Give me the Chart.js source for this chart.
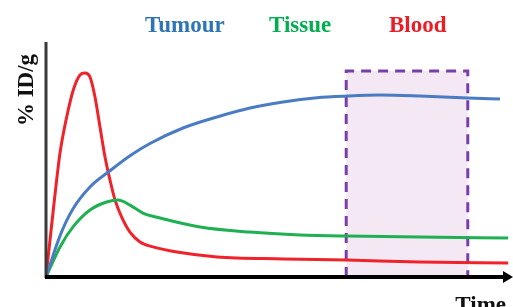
<!DOCTYPE html>
<html>
<head>
<meta charset="utf-8">
<script src="https://cdn.jsdelivr.net/npm/chart.js@4.4.1/dist/chart.umd.min.js"></script>
<style>
  html, body { margin: 0; padding: 0; background: #fff; }
  #wrap { width: 513px; height: 307px; }
</style>
</head>
<body>
<div id="wrap"><canvas id="uptakeChart"></canvas></div>
<script>
// Uptake curves (time and %ID/g in arbitrary units, 0-100)
const seriesNames = ['Tumour', 'Tissue', 'Blood'];
const seriesColors = ['#4a7cc4', '#1fb052', '#f0232b'];
const titleColors = ['#2e75b6', '#00b050', '#ee1c25'];

const tumourX = [0, 3.02, 5.82, 9.48, 13.79, 18.1, 22.41, 29.53, 36.85, 43.97, 51.08, 58.41, 64.87, 71.98, 80.6, 90.95, 97.84];
const tumourY = [0, 17.5, 29, 38.3, 45.2, 51.6, 56.8, 63.4, 68.1, 71.9, 74.5, 76.3, 77, 77.4, 77, 76.2, 75.7];

const tissueX = [0, 3.02, 5.82, 9.48, 13.08, 15.52, 18.1, 20.9, 24.57, 33.19, 43.97, 54.74, 64.87, 80.6, 99.6];
const tissueY = [0, 12.8, 21.3, 28.5, 31.9, 32.8, 30.6, 27.2, 25.1, 21.3, 19.1, 17.9, 17.4, 17, 16.6];

const bloodX = [0, 1.57, 3.02, 4.46, 5.88, 7.33, 8.41, 9.48, 10.56, 11.64, 12.72, 13.79, 14.87, 16.31, 18.1, 20.26, 23.06, 28.23, 36.85, 51.08, 64.87, 80.6, 99.6];
const bloodY = [0, 28.5, 52.8, 68.1, 79.6, 86, 86.8, 85.1, 76.6, 63.8, 51.1, 41.3, 32.8, 25.5, 19.1, 14.9, 12.8, 10.6, 8.5, 7.7, 7.2, 6.4, 6];

// imaging window (shaded box)
const windowStart = 64.7;
const windowEnd = 90.9;
const windowTop = 87.7;

function toPoints(xs, ys) {
    return xs.map((x, i) => ({ x: x, y: ys[i] }));
}

// Custom plugin: shaded window, axes with arrow, and text labels
const decorPlugin = {
    id: 'decorPlugin',
    beforeDatasetsDraw: (chart) => {
        const ctx = chart.ctx;
        const xs = chart.scales.x;
        const ys = chart.scales.y;
        const x0 = xs.getPixelForValue(windowStart);
        const x1 = xs.getPixelForValue(windowEnd);
        const yTop = ys.getPixelForValue(windowTop);
        const yBot = ys.getPixelForValue(0);

        ctx.save();
        ctx.fillStyle = '#f4e8f4';
        ctx.fillRect(x0, yTop, x1 - x0, yBot - yTop);
        ctx.strokeStyle = '#7a3fa6';
        ctx.lineWidth = 3;
        ctx.setLineDash([10, 7]);
        ctx.beginPath();
        ctx.moveTo(x0, yBot);
        ctx.lineTo(x0, yTop);
        ctx.lineTo(x1, yTop);
        ctx.lineTo(x1, yBot);
        ctx.stroke();
        ctx.restore();
    },
    afterDraw: (chart) => {
        const ctx = chart.ctx;
        const area = chart.chartArea;

        ctx.save();
        // y axis
        ctx.strokeStyle = '#3a3a3a';
        ctx.lineWidth = 3;
        ctx.beginPath();
        ctx.moveTo(area.left, area.top);
        ctx.lineTo(area.left, area.bottom + 1);
        ctx.stroke();

        // x axis with arrow
        ctx.strokeStyle = '#000';
        ctx.lineWidth = 4;
        ctx.beginPath();
        ctx.moveTo(area.left - 1, area.bottom);
        ctx.lineTo(area.right - 4, area.bottom);
        ctx.stroke();
        ctx.fillStyle = '#000';
        ctx.beginPath();
        ctx.moveTo(area.right + 3, area.bottom);
        ctx.lineTo(area.right - 7, area.bottom - 6);
        ctx.lineTo(area.right - 7, area.bottom + 6);
        ctx.closePath();
        ctx.fill();

        // series labels along the top
        ctx.font = 'bold 23px "Liberation Serif"';
        ctx.textBaseline = 'alphabetic';
        ctx.textAlign = 'left';
        const labelX = [145, 269, 389];
        seriesNames.forEach((name, i) => {
            ctx.fillStyle = titleColors[i];
            ctx.fillText(name, labelX[i], 32);
        });

        // axis titles
        ctx.fillStyle = '#111';
        ctx.font = 'bold 23px "Liberation Serif"';
        ctx.textAlign = 'right';
        ctx.fillText('Time', 506, 312);

        ctx.translate(33, 90);
        ctx.rotate(-Math.PI / 2);
        ctx.textAlign = 'center';
        ctx.fillText('% ID/g', 0, 0);
        ctx.restore();
    }
};

var uptakeCtx = document.getElementById('uptakeChart').getContext('2d');
var uptakeChart = new Chart(uptakeCtx, {
    type: 'line',
    data: {
        datasets: [
            { label: seriesNames[0], data: toPoints(tumourX, tumourY), borderColor: seriesColors[0] },
            { label: seriesNames[1], data: toPoints(tissueX, tissueY), borderColor: seriesColors[1] },
            { label: seriesNames[2], data: toPoints(bloodX, bloodY), borderColor: seriesColors[2] }
        ]
    },
    options: {
        responsive: true,
        maintainAspectRatio: false,
        animation: false,
        layout: {
            padding: { left: 46, right: 3, top: 42, bottom: 30 }
        },
        elements: {
            point: { radius: 0 },
            line: { borderWidth: 3, cubicInterpolationMode: 'monotone' }
        },
        scales: {
            x: { type: 'linear', min: 0, max: 100, display: false },
            y: { min: 0, max: 100, display: false }
        },
        plugins: {
            legend: { display: false },
            tooltip: { enabled: false }
        }
    },
    plugins: [decorPlugin]
});
</script>
</body>
</html>
